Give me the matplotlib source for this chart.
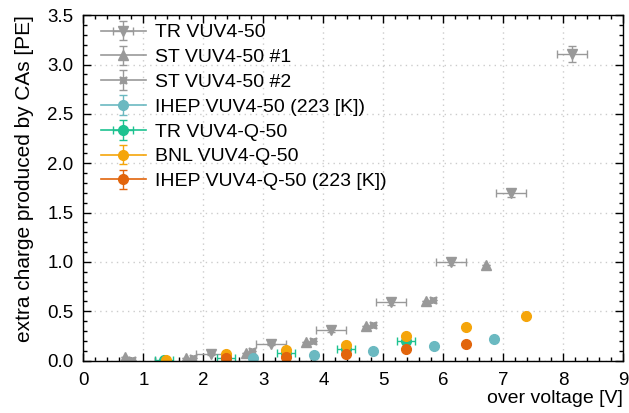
import matplotlib
matplotlib.use("Agg")
import matplotlib.pyplot as plt
from matplotlib.ticker import MultipleLocator

plt.rcParams['font.family'] = ['Liberation Sans', 'DejaVu Sans']

# TR VUV4-50
tr_x = [2.12, 3.12, 4.13, 5.13, 6.13, 7.13, 8.14]
tr_y = [0.07, 0.17, 0.31, 0.59, 1.00, 1.70, 3.11]
tr_xerr = [0.25, 0.25, 0.25, 0.25, 0.25, 0.25, 0.25]
tr_yerr = [0.01, 0.01, 0.02, 0.03, 0.03, 0.04, 0.08]

# ST VUV4-50 #1
st1_x = [0.70, 1.71, 2.71, 3.71, 4.71, 5.71, 6.71]
st1_y = [0.04, 0.03, 0.08, 0.19, 0.35, 0.60, 0.97]

# ST VUV4-50 #2
st2_x = [0.81, 1.82, 2.81, 3.82, 4.82, 5.82]
st2_y = [0.01, 0.03, 0.10, 0.20, 0.36, 0.61]

# IHEP VUV4-50 (223 K)
ih_x = [2.83, 3.85, 4.83, 5.84, 6.85]
ih_y = [0.03, 0.055, 0.095, 0.146, 0.217]

# TR VUV4-Q-50
trq_x = [1.35, 2.38, 3.37, 4.37, 5.38]
trq_y = [0.01, 0.03, 0.075, 0.12, 0.20]
trq_xerr = [0.15, 0.15, 0.15, 0.15, 0.15]

# BNL VUV4-Q-50
bnl_x = [1.37, 2.37, 3.37, 4.37, 5.38, 6.38, 7.38]
bnl_y = [0.01, 0.068, 0.108, 0.16, 0.25, 0.345, 0.456]

# IHEP VUV4-Q-50 (223 K)
ihq_x = [2.37, 3.37, 4.37, 5.38, 6.38]
ihq_y = [0.024, 0.04, 0.07, 0.12, 0.166]

gray = '#999999'
teal = '#6bb9c1'
green = '#1dc290'
yellow = '#f5a50a'
orange = '#e2650c'

fig = plt.figure(figsize=(6.29, 4.13), dpi=100)
ax = fig.add_axes([0.1325, 0.127, 0.8585, 0.836])

kw = dict(ms=7, capsize=3, elinewidth=1, lw=1.2)
series = []
series.append(ax.errorbar(tr_x, tr_y, xerr=tr_xerr, yerr=tr_yerr, fmt='v-', color=gray,
                          label='TR VUV4-50', **kw))
series.append(ax.errorbar(st1_x, st1_y, yerr=0, fmt='^-', color=gray,
                          label='ST VUV4-50 #1', **kw))
series.append(ax.errorbar(st2_x, st2_y, yerr=0, fmt='-', marker=(4, 1, 45), color=gray,
                          label='ST VUV4-50 #2', **kw))
series.append(ax.errorbar(ih_x, ih_y, yerr=0, fmt='o-', color=teal,
                          label='IHEP VUV4-50 (223 [K])', **kw))
series.append(ax.errorbar(trq_x, trq_y, xerr=trq_xerr, yerr=0, fmt='o-', color=green,
                          label='TR VUV4-Q-50', **kw))
series.append(ax.errorbar(bnl_x, bnl_y, yerr=0, fmt='o-', color=yellow,
                          label='BNL VUV4-Q-50', **kw))
series.append(ax.errorbar(ihq_x, ihq_y, yerr=0, fmt='o-', color=orange,
                          label='IHEP VUV4-Q-50 (223 [K])', **kw))

leg = ax.legend(loc='upper left', frameon=False, fontsize=14, handlelength=2.3,
                labelspacing=0.37, handletextpad=0.5, bbox_to_anchor=(0.0, 1.026))
for s in series:
    s.lines[0].set_linestyle('none')

ax.set_xlim(0, 9)
ax.set_ylim(0, 3.5)
ax.xaxis.set_major_locator(MultipleLocator(1))
ax.xaxis.set_minor_locator(MultipleLocator(0.2))
ax.yaxis.set_major_locator(MultipleLocator(0.5))
ax.yaxis.set_minor_locator(MultipleLocator(0.1))
ax.yaxis.set_major_formatter(plt.FormatStrFormatter('%.1f'))
ax.tick_params(which='both', direction='in', top=True, right=True, labelsize=13.5)
ax.tick_params(which='major', length=6, width=1)
ax.tick_params(which='minor', length=3, width=1)
ax.tick_params(axis='x', pad=8)
ax.tick_params(axis='y', pad=7)
ax.grid(True, which='major', color='#cccccc', linestyle=(0, (1, 3)), lw=1)
ax.set_axisbelow(True)
for sp in ax.spines.values():
    sp.set_linewidth(1)

ax.set_xlabel('over voltage [V]', fontsize=14, loc='right')
ax.set_ylabel('extra charge produced by CAs [PE]', fontsize=15, loc='top')
ax.xaxis.set_label_coords(1.0, -0.085)
ax.yaxis.set_label_coords(-0.091, 1.0)

fig.savefig('out.png', dpi=100)
